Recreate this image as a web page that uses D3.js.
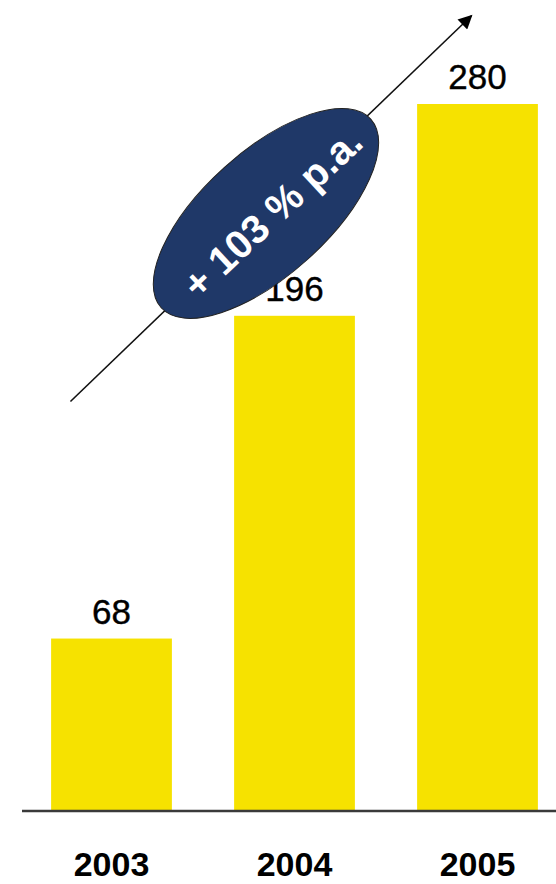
<!DOCTYPE html>
<html>
<head>
<meta charset="utf-8">
<script src="https://cdn.jsdelivr.net/npm/d3@7"></script>
<style>
  html, body { margin: 0; padding: 0; background: #ffffff; }
  svg { display: block; font-family: "Liberation Sans", Arial, sans-serif; }
</style>
</head>
<body>
<svg id="chart" width="556" height="884"></svg>
<script>
const years = ["2003", "2004", "2005"];
const values = [68, 196, 280];
const growthLabel = "+ 103 % p.a.";

const W = 556, H = 884;
const svg = d3.select("#chart");

const x = d3.scaleBand().domain(years).range([20, 569]).paddingInner(0.34).paddingOuter(0.17);
const y = d3.scaleLinear().domain([0, 280]).range([810, 104]);

// bars
svg.append("g").selectAll("rect").data(years).join("rect")
  .attr("x", d => x(d))
  .attr("y", (d, i) => y(values[i]))
  .attr("width", x.bandwidth())
  .attr("height", (d, i) => y(0) - y(values[i]))
  .attr("fill", "#F6E200");

// value labels
svg.append("g").selectAll("text").data(years).join("text")
  .attr("x", d => x(d) + x.bandwidth() / 2)
  .attr("y", (d, i) => y(values[i]) - 15)
  .attr("text-anchor", "middle")
  .attr("font-size", 35)
  .attr("fill", "#000")
  .attr("stroke", "#000").attr("stroke-width", 0.4)
  .text((d, i) => values[i]);

// baseline
svg.append("line")
  .attr("x1", 22).attr("x2", W)
  .attr("y1", y(0) + 1).attr("y2", y(0) + 1)
  .attr("stroke", "#3a3a3a").attr("stroke-width", 2.5);

// x axis labels
const xAxis = d3.axisBottom(x).tickSize(0).tickPadding(0);
const gx = svg.append("g").attr("transform", `translate(0, ${y(0)})`).call(xAxis);
gx.select(".domain").remove();
gx.selectAll("text")
  .attr("y", 66).attr("dy", 0)
  .attr("font-size", 34).attr("font-weight", "bold")
  .attr("font-family", "'Liberation Sans', Arial, sans-serif")
  .attr("fill", "#000");

// growth arrow
const defs = svg.append("defs");
defs.append("marker")
  .attr("id", "ah").attr("viewBox", "0 0 10 10")
  .attr("refX", 9).attr("refY", 5)
  .attr("markerUnits", "userSpaceOnUse")
  .attr("orient", "auto")
  .attr("markerWidth", 16).attr("markerHeight", 14)
  .append("path").attr("d", "M0,0 L10,5 L0,10 Z").attr("fill", "#000");

const ax0 = x("2003") + x.bandwidth() * 0.16, ay0 = y(162);
const ax1 = x("2005") + x.bandwidth() * 0.45, ay1 = y(315);
svg.append("line")
  .attr("x1", ax0).attr("y1", ay0).attr("x2", ax1).attr("y2", ay1)
  .attr("stroke", "#111").attr("stroke-width", 1.6)
  .attr("marker-end", "url(#ah)");

// ellipse badge
const t = 0.4876;
const cx = ax0 + (ax1 - ax0) * t, cy = ay0 + (ay1 - ay0) * t;
const badge = svg.append("g").attr("transform", `translate(${cx},${cy}) rotate(-42)`);
badge.append("ellipse")
  .attr("rx", 141).attr("ry", 62)
  .attr("fill", "#1F3868").attr("stroke", "#222").attr("stroke-width", 1);
svg.append("text")
  .attr("transform", `translate(${cx + 6},${cy - 1}) rotate(-43)`)
  .attr("text-anchor", "middle").attr("dy", "0.36em")
  .attr("font-size", 40).attr("font-weight", "bold")
  .attr("fill", "#fff")
  .text(growthLabel);
</script>
</body>
</html>
